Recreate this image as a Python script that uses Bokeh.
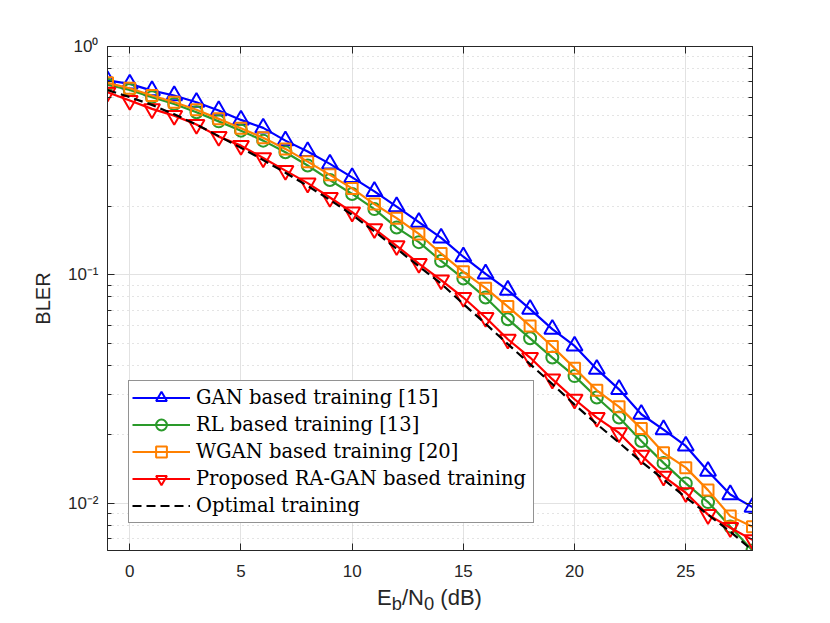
from bokeh.plotting import figure
from bokeh.models import (Range1d, FixedTicker, LogAxis, LinearAxis,
                          CustomJSTickFormatter, Legend, LegendItem, Div)
from bokeh.layouts import column
from bokeh.embed import file_html
from bokeh.resources import INLINE

# ---------------- data ----------------
ebn0 = [-1, 0, 1, 2, 3, 4, 5, 6, 7, 8, 9, 10, 11, 12, 13, 14, 15, 16, 17, 18,
        19, 20, 21, 22, 23, 24, 25, 26, 27, 28]
gan = [0.71, 0.686, 0.641, 0.61, 0.57, 0.524, 0.477, 0.44, 0.387, 0.347,
       0.306, 0.267, 0.232, 0.199, 0.17, 0.145, 0.12, 0.101, 0.0857, 0.0707,
       0.0578, 0.0488, 0.0386, 0.0315, 0.0245, 0.021, 0.0178, 0.0138, 0.0109, 0.0096]
rl = [0.68, 0.645, 0.6, 0.56, 0.515, 0.47, 0.428, 0.387, 0.344, 0.301,
      0.26, 0.226, 0.194, 0.161, 0.139, 0.115, 0.0963, 0.0795, 0.0639, 0.0527,
      0.0434, 0.036, 0.029, 0.0237, 0.0187, 0.015, 0.0122, 0.0101, 0.0079, 0.0062]
wgan = [0.693, 0.656, 0.61, 0.57, 0.528, 0.482, 0.438, 0.398, 0.356, 0.313,
        0.274, 0.239, 0.204, 0.177, 0.151, 0.124, 0.103, 0.0874, 0.0726, 0.0597,
        0.0485, 0.039, 0.0312, 0.0264, 0.0212, 0.0166, 0.0143, 0.0114, 0.00877, 0.00787]
ragan = [0.63, 0.58, 0.533, 0.498, 0.455, 0.403, 0.368, 0.325, 0.286, 0.252,
         0.218, 0.188, 0.159, 0.134, 0.112, 0.0948, 0.0795, 0.065, 0.0522, 0.0434,
         0.0349, 0.0285, 0.0237, 0.0203, 0.0162, 0.0131, 0.0111, 0.0089, 0.0078, 0.0069]
optimal = [0.645, 0.6, 0.555, 0.505, 0.455, 0.405, 0.36, 0.318, 0.28, 0.245,
           0.213, 0.183, 0.155, 0.13, 0.109, 0.0915, 0.0745, 0.061, 0.0497, 0.0406,
           0.0332, 0.027, 0.0222, 0.0184, 0.0152, 0.0127, 0.0106, 0.0089, 0.0075, 0.0062]

series_names = ["GAN based training [15]", "RL based training [13]",
                "WGAN based training [20]", "Proposed RA-GAN based training",
                "Optimal training"]

x_ticks = [0, 5, 10, 15, 20, 25]
y_tick_values = [0.01, 0.1, 1.0]
y_tick_labels = ["10\u207b\u00b2", "10\u207b\u00b9", "10\u2070"]
y_minor_ticks = [0.007, 0.008, 0.009,
                 0.02, 0.03, 0.04, 0.05, 0.06, 0.07, 0.08, 0.09,
                 0.2, 0.3, 0.4, 0.5, 0.6, 0.7, 0.8, 0.9]
x_limits = [-1, 28]
y_limits = [0.0062, 1.0]
x_label_html = "E<sub>b</sub>/N<sub>0</sub> (dB)"
y_label = "BLER"

# ---------------- style ----------------
AX = "#262626"
TICK_FONT = "Liberation Sans"

p = figure(width=818, height=586,
           x_range=Range1d(*x_limits), y_range=Range1d(*y_limits),
           y_axis_type="log", output_backend="svg", toolbar_location=None,
           min_border_left=107, min_border_right=66,
           min_border_top=46, min_border_bottom=36)
p.background_fill_color = "white"
p.border_fill_color = "white"
p.outline_line_color = AX
p.outline_line_width = 1

xt = FixedTicker(ticks=x_ticks)
yt = FixedTicker(ticks=y_tick_values, minor_ticks=y_minor_ticks)

yfmt = CustomJSTickFormatter(args=dict(vals=y_tick_values, labs=y_tick_labels), code="""
let best = 0;
for (let i = 0; i < vals.length; i++) {
  if (Math.abs(Math.log10(vals[i]) - Math.log10(tick)) <
      Math.abs(Math.log10(vals[best]) - Math.log10(tick))) best = i;
}
return labs[best];
""")
empty = CustomJSTickFormatter(code="return '';")

xa = p.xaxis[0]
ya = p.yaxis[0]
xa.ticker = xt
ya.ticker = yt
ya.formatter = yfmt
for ax in (xa, ya):
    ax.axis_line_color = AX
    ax.major_tick_line_color = AX
    ax.minor_tick_line_color = AX
    ax.major_tick_in = 7
    ax.major_tick_out = 0
    ax.minor_tick_in = 4
    ax.minor_tick_out = 0
    ax.major_label_text_font = TICK_FONT
    ax.major_label_text_font_size = "17px"
    ax.major_label_text_color = AX
xa.minor_tick_line_color = None
xa.major_label_standoff = 14
ya.major_label_standoff = 9

ya.axis_label = y_label
ya.axis_label_text_font = TICK_FONT
ya.axis_label_text_font_size = "20px"
ya.axis_label_text_font_style = "normal"
ya.axis_label_text_color = AX
ya.axis_label_standoff = 11

top = LinearAxis(ticker=xt, formatter=empty, axis_line_color=AX,
                 major_tick_line_color=AX, major_tick_in=7, major_tick_out=0,
                 minor_tick_line_color=None, major_label_standoff=0)
right = LogAxis(ticker=yt, formatter=empty, axis_line_color=AX,
                major_tick_line_color=AX, minor_tick_line_color=AX,
                major_tick_in=7, major_tick_out=0, minor_tick_in=4, minor_tick_out=0,
                major_label_standoff=0)
p.add_layout(top, "above")
p.add_layout(right, "right")

p.xgrid.ticker = xt
p.ygrid.ticker = yt
p.xgrid.grid_line_color = "#e2e2e2"
p.ygrid.grid_line_color = "#e2e2e2"
p.ygrid.minor_grid_line_color = "#c8c8c8"
p.ygrid.minor_grid_line_dash = "1 4"

# ---------------- series ----------------
specs = [
    (gan, "#0000ff", "triangle", 16),
    (rl, "#2a9a2a", "circle", 12),
    (wgan, "#ff8000", "square", 11),
    (ragan, "#ff0000", "inverted_triangle", 16),
]
items = []
for (vals, col, mk, sz), name in zip(specs, series_names[:4]):
    lr = p.line(ebn0, vals, line_color=col, line_width=2.2)
    sr = p.scatter(ebn0, vals, marker=mk, size=sz, line_color=col,
                   line_width=2, fill_color=None)
    items.append(LegendItem(label=name, renderers=[lr, sr]))
opt_r = p.line(ebn0, optimal, line_color="black", line_width=2.2, line_dash="9 5")
items.append(LegendItem(label=series_names[4], renderers=[opt_r]))

legend = Legend(items=items, location=(21, 27), glyph_width=58, glyph_height=27,
                label_height=27, label_width=334, label_standoff=6, padding=3,
                spacing=0, margin=0,
                label_text_font="DejaVu Serif", label_text_font_size="19.5px",
                label_text_color="black",
                border_line_color=AX, border_line_width=1,
                background_fill_color="white", background_fill_alpha=1)
p.add_layout(legend)

# ---------------- x axis label (with subscripts) ----------------
xlabel = Div(text=x_label_html, width=645, height=30, margin=(0, 0, 0, 107),
             styles={"text-align": "center", "font-family": "'Liberation Sans', sans-serif",
                     "font-size": "22px", "color": AX, "line-height": "24px",
                     "width": "645px"})

layout = column(p, xlabel, spacing=0)
open("out.html", "w").write(file_html(layout, INLINE))
